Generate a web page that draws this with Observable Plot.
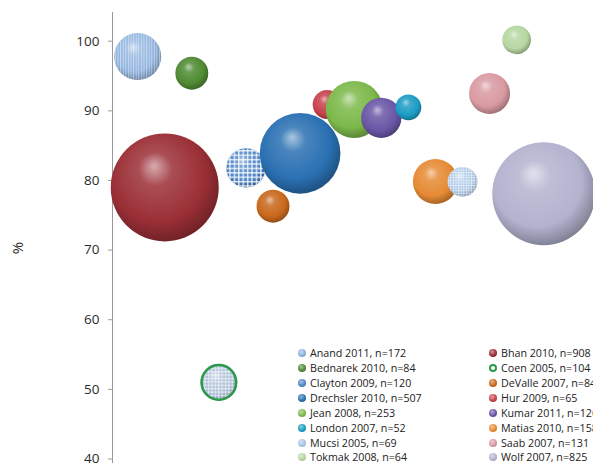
<!DOCTYPE html>
<html><head><meta charset="utf-8">
<script src="https://cdn.jsdelivr.net/npm/d3@7"></script>
<script src="https://cdn.jsdelivr.net/npm/@observablehq/plot@0.6"></script>
<style>
html,body{margin:0;padding:0;background:#fff;}
#wrap{position:relative;width:593px;height:463px;overflow:hidden;font-family:"Open Sans",sans-serif;}
#legend{position:absolute;left:298px;top:346px;display:grid;grid-template-columns:191px 191px;grid-auto-rows:14.86px;font-size:10.7px;color:#222;white-space:nowrap;}
#legend .item{display:flex;align-items:center;}
#legend .sw{width:8px;height:8px;border-radius:50%;margin-right:4px;flex:none;box-sizing:border-box;}
</style>
</head><body>
<div id="wrap"><div id="chart"></div><div id="legend"></div></div>
<script>
// Series in plotting order (x position = order index)
const studies = ["Anand","Bhan","Bednarek","Coen","Clayton","DeValle","Drechsler","Hur","Jean","Kumar","London","Matias","Mucsi","Saab","Tokmak","Wolf"];
const years = [2011,2010,2010,2005,2009,2007,2010,2009,2008,2011,2007,2010,2005,2007,2008,2007];
const ns = [172,908,84,104,120,84,507,65,253,126,52,158,69,131,64,825];
const xPos = [1,2,3,4,5,6,7,8,9,10,11,12,13,14,15,16];
const pct = [97.8,79.0,95.4,51.0,81.8,76.3,83.9,90.9,90.2,89.0,90.5,79.85,79.8,92.5,100.2,78.1];
const colors = ["#8fb3de","#9b2f36","#4f8a32","#a9bcd6","#4f86c8","#c9681c","#2a70b2","#c8424c","#7cb84a","#6a56a6","#1c9cc4","#e68a34","#a9c6e6","#d99aa2","#b7d7a2","#b3b3cf"];
const patterns = ["stripes",null,null,"grid","check",null,null,null,null,null,null,null,"fine",null,null,null];
const ringColor = "#2a9a4a";
const yTicks = [40,50,60,70,80,90,100];
const xDomain = [0.07, 17.84];
const yDomain = [39.35, 104.12];

const data = studies.map((s,i)=>({study:s, year:years[i], n:ns[i], x:xPos[i], y:pct[i], color:colors[i]}));

const plot = Plot.plot({
  width:593, height:463,
  marginLeft:112, marginRight:0, marginTop:12, marginBottom:0,
  x:{domain:xDomain, axis:null},
  y:{domain:yDomain},
  r:{domain:[0,d3.max(ns)], range:[0,54]},
  style:{fontFamily:"Open Sans", fontSize:"13.5px", color:"#2a2a2a", background:"transparent"},
  marks:[
    Plot.axisY({ticks:yTicks, tickSize:4, tickPadding:9, stroke:"#999", label:"%", labelArrow:"none", labelAnchor:"center", labelOffset:100, fontSize:"13.5px"}),
    Plot.ruleX([xDomain[0]], {stroke:"#999", strokeWidth:1}),
    Plot.dot(data, {x:"x", y:"y", r:"n", fill:"color", sort:null})
  ]
});
document.getElementById("chart").appendChild(plot);

// make sure the axis label is just "%" (no arrow), a bit larger and slightly lower
d3.select(plot).selectAll("text").each(function(){
  const t = this.textContent;
  if (t.includes("%")) { this.textContent = "%"; this.setAttribute("font-size","15px"); this.setAttribute("x","-10"); }
});

// 3D sphere shading and patterns
const svg = d3.select(plot);
const defs = svg.insert("defs", ":first-child");
colors.forEach((c,i)=>{
  const g = defs.append("radialGradient").attr("id","sph"+i)
    .attr("cx",0.45).attr("cy",0.42).attr("r",0.62).attr("fx",0.4).attr("fy",0.3);
  const light = d3.interpolateRgb(c,"#fff")(0.6);
  const mid = d3.interpolateRgb(c,"#fff")(0.15);
  g.append("stop").attr("offset","0%").attr("stop-color",light);
  g.append("stop").attr("offset","25%").attr("stop-color",mid);
  g.append("stop").attr("offset","70%").attr("stop-color",c);
  g.append("stop").attr("offset","100%").attr("stop-color",d3.color(c).darker(1.1).formatHex());
});
function pat(id,w,h,lines,color,op){
  const p = defs.append("pattern").attr("id",id).attr("patternUnits","userSpaceOnUse").attr("width",w).attr("height",h);
  lines.forEach(([x,y,ww,hh])=>p.append("rect").attr("x",x).attr("y",y).attr("width",ww).attr("height",hh).attr("fill",color).attr("fill-opacity",op));
}
pat("pat-stripes",2.6,10,[[0,0,1,10]],"#fff",0.45);
pat("pat-check",4.4,4.4,[[0,0,1.4,4.4],[0,0,4.4,1.4]],"#fff",0.8);
pat("pat-fine",2.6,2.6,[[0,0,0.9,2.6],[0,0,2.6,0.9]],"#fff",0.5);
pat("pat-grid",3.4,3.4,[[0,0,1.2,3.4],[0,0,3.4,1.2]],"#fff",0.55);

const circles = svg.selectAll("g[aria-label='dot'] circle").nodes();
circles.forEach((node,i)=>{
  node.setAttribute("fill","url(#sph"+i+")");
  if (patterns[i]) {
    const clone = node.cloneNode();
    clone.setAttribute("fill","url(#pat-"+patterns[i]+")");
    node.parentNode.insertBefore(clone, node.nextSibling);
    if (patterns[i]==="grid") {
      const ring = node.cloneNode();
      ring.setAttribute("fill","none");
      ring.setAttribute("stroke",ringColor);
      ring.setAttribute("stroke-width",2.5);
      ring.setAttribute("r", +node.getAttribute("r") - 1);
      clone.parentNode.insertBefore(ring, clone.nextSibling);
    }
  }
});

// Legend (row-major, two columns)
const legend = d3.select("#legend");
studies.forEach((s,i)=>{
  const it = legend.append("div").attr("class","item");
  const c = colors[i];
  const sw = it.append("span").attr("class","sw");
  if (patterns[i]==="grid") {
    sw.style("border","2px solid "+ringColor).style("background","#fff");
  } else {
    sw.style("background",`radial-gradient(circle at 40% 35%, ${d3.interpolateRgb(c,"#fff")(0.5)}, ${c} 55%, ${d3.color(c).darker(0.8).formatHex()})`);
  }
  it.append("span").text(`${s} ${years[i]}, n=${ns[i]}`);
});
</script>
</body></html>
